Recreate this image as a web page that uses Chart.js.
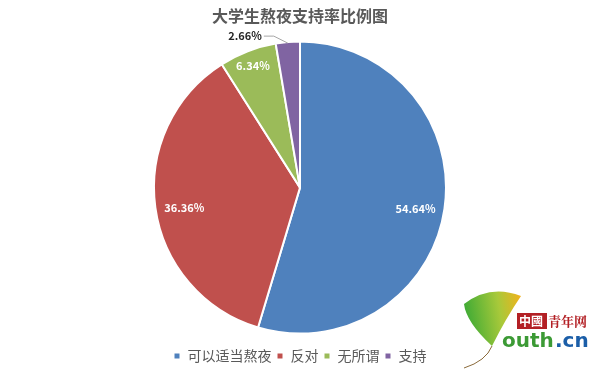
<!DOCTYPE html>
<html>
<head>
<meta charset="utf-8">
<script src="https://cdn.jsdelivr.net/npm/chart.js@4/dist/chart.umd.min.js"></script>
<style>
  html, body { margin: 0; padding: 0; background: #fff; }
  #wrap { width: 600px; height: 377px; position: relative; }
</style>
</head>
<body>
<div id="wrap"><canvas id="nightPie" width="600" height="377"></canvas></div>
<script>
// data
var categories = ['可以适当熬夜', '反对', '无所谓', '支持'];
var shares = [54.64, 36.36, 6.34, 2.66];
var sliceColors = ['#4F81BD', '#C0504D', '#9BBB59', '#8064A2'];

var cjk = '"Noto Sans CJK SC", "Microsoft YaHei", sans-serif';

// percent labels: inside slices in white, the small one outside with a leader line
var sliceLabels = {
	id: 'sliceLabels',
	afterDatasetsDraw: function(chart){
		var ctx = chart.ctx;
		var arcs = chart.getDatasetMeta(0).data;
		ctx.save();
		ctx.font = 'bold 11px ' + cjk;
		ctx.textAlign = 'center';
		ctx.textBaseline = 'middle';
		for(var i = 0; i < arcs.length; i++){
			var a = arcs[i];
			var mid = (a.startAngle + a.endAngle) / 2;
			var txt = shares[i].toFixed(2) + '%';
			if(shares[i] < 4){
				var ex = a.x + Math.cos(mid) * a.outerRadius;
				var ey = a.y + Math.sin(mid) * a.outerRadius;
				ctx.strokeStyle = '#A6A6A6';
				ctx.lineWidth = 1;
				ctx.beginPath();
				ctx.moveTo(ex, ey + 1);
				ctx.lineTo(ex - 14, ey - 6);
				ctx.lineTo(ex - 24, ey - 6);
				ctx.stroke();
				ctx.fillStyle = '#262626';
				ctx.textAlign = 'right';
				ctx.fillText(txt, ex - 26, ey - 6);
				ctx.textAlign = 'center';
			} else {
				var small = shares[i] < 10;
				var r = a.outerRadius * (small ? 0.9 : 0.8);
				ctx.fillStyle = '#ffffff';
				ctx.fillText(txt, a.x + Math.cos(mid) * r, a.y + Math.sin(mid) * r + (small ? 1 : 4));
			}
		}
		ctx.restore();
	}
};

// youth.cn watermark in the lower right corner
var watermark = {
	id: 'watermark',
	afterDraw: function(chart){
		var ctx = chart.ctx;
		ctx.save();
		// ginkgo leaf
		var g = ctx.createLinearGradient(462, 300, 520, 290);
		g.addColorStop(0, '#3DAA35');
		g.addColorStop(0.6, '#A8C93A');
		g.addColorStop(1, '#F2B21B');
		ctx.fillStyle = g;
		ctx.beginPath();
		ctx.moveTo(492, 346);
		ctx.quadraticCurveTo(466, 322, 464, 304);
		ctx.quadraticCurveTo(490, 284, 521, 296);
		ctx.quadraticCurveTo(506, 318, 492, 346);
		ctx.fill();
		ctx.strokeStyle = '#8A6A3A';
		ctx.lineWidth = 1;
		ctx.beginPath();
		ctx.moveTo(492, 346);
		ctx.quadraticCurveTo(486, 361, 464, 368);
		ctx.stroke();
		// 中國 badge
		ctx.fillStyle = '#B32025';
		ctx.fillRect(517, 313, 30, 16);
		ctx.fillStyle = '#ffffff';
		ctx.font = 'bold 12px ' + cjk;
		ctx.textBaseline = 'middle';
		ctx.textAlign = 'left';
		ctx.fillText('中國', 519, 321);
		ctx.fillStyle = '#B32025';
		ctx.font = 'bold 13px "Noto Serif CJK SC", ' + cjk;
		ctx.fillText('青年网', 548, 321);
		ctx.font = 'bold 20px "DejaVu Sans", sans-serif';
		ctx.fillStyle = '#3C9A35';
		ctx.fillText('outh', 502, 342);
		ctx.fillStyle = '#1B5EA8';
		ctx.fillText('.cn', 555, 342);
		ctx.restore();
	}
};

var pieCanvas = document.getElementById('nightPie').getContext('2d');

new Chart(pieCanvas, {
	type: 'pie',
	data: {
		labels: categories,
		datasets: [{
			data: shares,
			backgroundColor: sliceColors,
			borderColor: '#ffffff',
			borderWidth: 2,
			radius: 146
		}]
	},
	options: {
		responsive: false,
		animation: false,
		layout: { padding: { top: 2, bottom: 4 } },
		plugins: {
			title: {
				display: true,
				text: '大学生熬夜支持率比例图',
				color: '#595959',
				font: { family: cjk, size: 16, weight: 'bold' },
				padding: { top: 4, bottom: 6 }
			},
			legend: {
				position: 'bottom',
				labels: {
					color: '#595959',
					font: { family: cjk, size: 14 },
					boxWidth: 7,
					boxHeight: 7,
					padding: 5
				}
			},
			tooltip: { enabled: false }
		}
	},
	plugins: [sliceLabels, watermark]
});
</script>
</body>
</html>
